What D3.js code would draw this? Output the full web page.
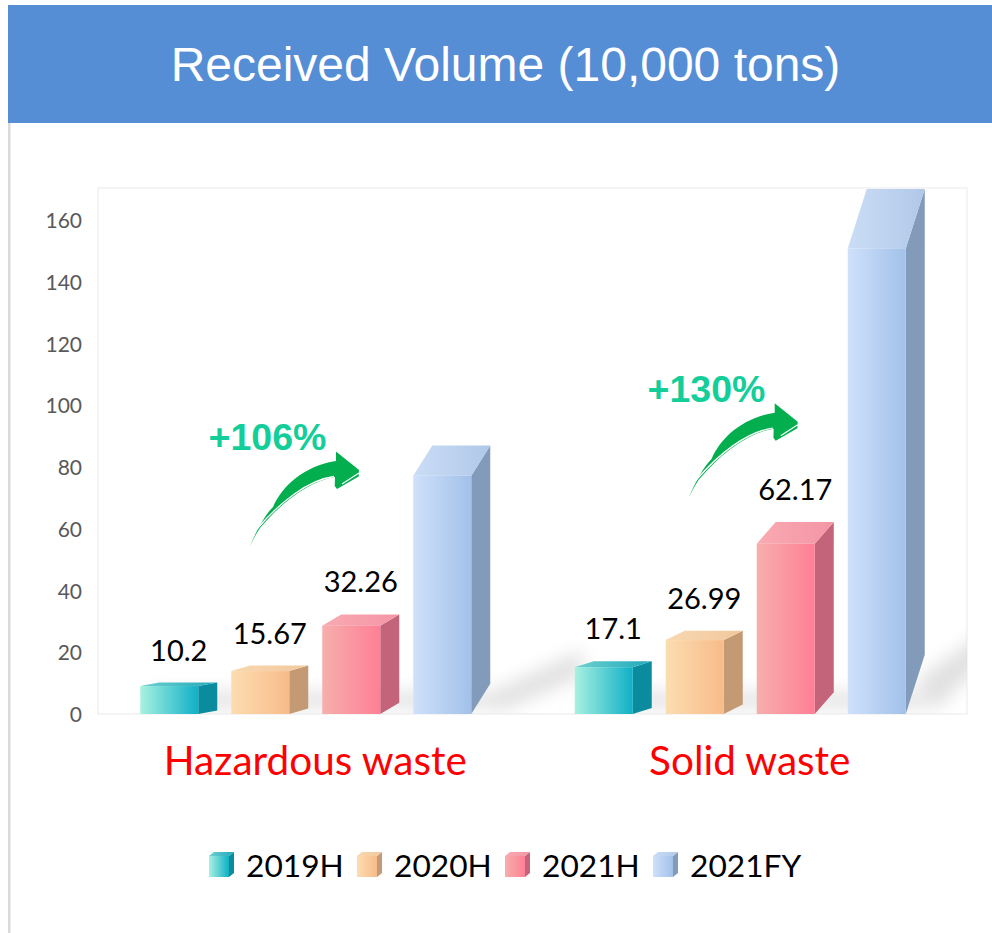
<!DOCTYPE html>
<html><head><meta charset="utf-8">
<script src="https://cdn.jsdelivr.net/npm/d3@7"></script>
<style>html,body{margin:0;padding:0;background:#fff;overflow:hidden}svg{display:block}</style>
</head><body><div id="chart"></div>
<script>
const titleText = "Received Volume (10,000 tons)";
const categories = ["Hazardous waste", "Solid waste"];
const seriesNames = ["2019H", "2020H", "2021H", "2021FY"];
const values2019H = [10.2, 17.1];
const values2020H = [15.67, 26.99];
const values2021H = [32.26, 62.17];
const values2021FY = [87, 170];
const labels2019H = ["10.2", "17.1"];
const labels2020H = ["15.67", "26.99"];
const labels2021H = ["32.26", "62.17"];
const labels2021FY = [null, null];
const yTicks = [0, 20, 40, 60, 80, 100, 120, 140, 160];
const growthLabels = ["+106%", "+130%"];

const colFront = [["#A8F1E1", "#0FB0C6"], ["#FCDDB0", "#F8BB8A"], ["#F6AFAC", "#FF7F95"], ["#CFE1FB", "#A2C1E9"]];
const colTop = [["#6FD0CF", "#1FA9BA"], ["#F8D8B0", "#F2C79D"], ["#F9AAB2", "#F495A6"], ["#CBDDF6", "#B0C8E8"]];
const colSide = ["#0A8C9E", "#C49A74", "#C3647A", "#829BBB"];

const W = 992, H = 933;
const plot = {l: 98, r: 967, t: 188, b: 714};
const font = "Lato, Carlito, sans-serif";
const svg = d3.select("#chart").append("svg").attr("width", W).attr("height", H);
const defs = svg.append("defs");

const allValues = [values2019H, values2020H, values2021H, values2021FY];
const allLabels = [labels2019H, labels2020H, labels2021H, labels2021FY];

const x0 = d3.scaleBand().domain(categories).range([plot.l, plot.r]);
const x1 = d3.scaleBand().domain(seriesNames).range([-175, 175]).paddingInner(14 / 91);
const y = d3.scaleLinear().domain([0, 170.36]).range([plot.b, plot.t]);

function grad(id, stops) {
  const g = defs.append("linearGradient").attr("id", id);
  stops.forEach((c, i) => g.append("stop").attr("offset", i / (stops.length - 1)).attr("stop-color", c));
}
seriesNames.forEach((s, i) => {
  grad("front" + i, colFront[i]);
  grad("top" + i, colTop[i]);
});
defs.append("clipPath").attr("id", "plotClip").append("rect")
  .attr("x", plot.l).attr("y", plot.t).attr("width", plot.r - plot.l).attr("height", plot.b - plot.t);
defs.append("filter").attr("id", "blur").attr("x", "-40%").attr("y", "-40%").attr("width", "180%").attr("height", "180%")
  .append("feGaussianBlur").attr("stdDeviation", 9);

// header + page edge
svg.append("rect").attr("x", 8).attr("y", 123).attr("width", 2.5).attr("height", H - 123).attr("fill", "#DADADA");
svg.append("rect").attr("x", 8).attr("y", 5).attr("width", W - 8).attr("height", 118).attr("fill", "#558ED5");
svg.append("text").attr("x", 505.5).attr("y", 81).attr("text-anchor", "middle")
  .attr("font-family", "'Liberation Sans', Arial, sans-serif").attr("font-size", 48).attr("fill", "#fff").text(titleText);

// plot frame
svg.append("rect").attr("x", plot.l).attr("y", plot.t).attr("width", plot.r - plot.l).attr("height", plot.b - plot.t)
  .attr("fill", "#fff").attr("stroke", "#F1F1F1").attr("stroke-width", 1.5);

// axis
const yAxis = d3.axisLeft(y).tickValues(yTicks).tickSize(0).tickPadding(16);
const axisG = svg.append("g").attr("transform", `translate(${plot.l},1)`).call(yAxis);
axisG.select(".domain").remove();
axisG.selectAll("text").attr("font-family", font).attr("font-size", 21).attr("fill", "#595959");

// floor shadows
const chart = svg.append("g").attr("clip-path", "url(#plotClip)");
const shadowG = chart.append("g").attr("filter", "url(#blur)");
const depthX = 19, frontW = x1.bandwidth() - depthX, ratio = 0.113;
categories.forEach((c, ci) => {
  const cx = x0(c) + x0.bandwidth() / 2;
  const fyRight = cx + x1("2021FY") + x1.bandwidth();
  const rise = (plot.b - y(values2021FY[ci])) * ratio;
  const spread = ci === 0 ? 92 : 70;
  const topY = plot.b - rise * (ci === 0 ? 2.1 : 1.5);
  shadowG.append("path").attr("fill", "#E0E0E0").attr("d", d3.line()([
    [fyRight - 6, plot.b - rise * 0.6],
    [fyRight + spread, topY],
    [fyRight + spread, topY + 26],
    [fyRight + 8, plot.b - 2]
  ]) + "Z");
  shadowG.append("rect").attr("x", cx + x1("2019H") + 10).attr("y", plot.b - 22)
    .attr("width", fyRight - cx - x1("2019H") - 10).attr("height", 16).attr("fill", "#E2E2E2");
});

// 3D bars
seriesNames.forEach((s, si) => {
  const rows = categories.map((c, ci) => ({c, v: allValues[si][ci], label: allLabels[si][ci]}));
  const g = chart.append("g").selectAll("g").data(rows).join("g")
    .attr("transform", d => `translate(${x0(d.c) + x0.bandwidth() / 2 + x1(s)},0)`);
  const dp = d => (plot.b - y(d.v)) * ratio;
  g.append("path").attr("fill", colSide[si]).attr("d", d => d3.line()([
    [frontW, plot.b], [frontW + depthX, plot.b - dp(d)], [frontW + depthX, y(d.v)], [frontW, y(d.v) + dp(d)]
  ]) + "Z");
  g.append("path").attr("fill", `url(#top${si})`).attr("d", d => d3.line()([
    [0, y(d.v) + dp(d)], [depthX, y(d.v)], [frontW + depthX, y(d.v)], [frontW, y(d.v) + dp(d)]
  ]) + "Z");
  g.append("rect").attr("fill", `url(#front${si})`).attr("x", 0).attr("width", frontW)
    .attr("y", d => y(d.v) + dp(d)).attr("height", d => plot.b - y(d.v) - dp(d));
});

// value labels
seriesNames.forEach((s, si) => {
  categories.forEach((c, ci) => {
    if (allLabels[si][ci] === null) return;
    svg.append("text")
      .attr("x", x0(c) + x0.bandwidth() / 2 + x1(s) + x1.bandwidth() / 2)
      .attr("y", y(allValues[si][ci]) - 22)
      .attr("text-anchor", "middle").attr("font-family", font).attr("font-size", 29).attr("fill", "#000")
      .text(allLabels[si][ci]);
  });
});

// category labels
categories.forEach(c => {
  svg.append("text").attr("x", x0(c) + x0.bandwidth() / 2).attr("y", 775).attr("text-anchor", "middle")
    .attr("font-family", font).attr("font-size", 40.5).attr("fill", "#FF0000").text(c);
});

// growth arrows (shape in local units, origin at the tail tip)
const arrowBody = "M0,0 C6,-14 14,-30 23,-39 C32,-60 54,-80 86,-85 L86,-94.5 L109,-76 L108.7,-69.5 L87,-57 L84.7,-60 L85,-69 C60,-65 34,-46 10,-18 C6,-12 3,-6 0,0 Z";
const arrowSlit = "M7,-17 C30,-44 58,-66 84,-69.5";
const arrowSlit2 = "M92,-62 L109,-73";
const arrowAnchors = [[250, 546], [688.7, 497.7]];
const growthPos = [[267.5, 449.5], [706.5, 401.5]];
arrowAnchors.forEach((a, i) => {
  const g = svg.append("g").attr("transform", `translate(${a[0]},${a[1]})`);
  g.append("path").attr("d", arrowBody).attr("fill", "#03AE4E");
  g.append("path").attr("d", arrowSlit).attr("fill", "none").attr("stroke", "#fff").attr("stroke-width", 1.3);
  g.append("path").attr("d", arrowSlit2).attr("fill", "none").attr("stroke", "#fff").attr("stroke-width", 1.2);
  svg.append("text").attr("x", growthPos[i][0]).attr("y", growthPos[i][1]).attr("text-anchor", "middle")
    .attr("font-family", "'Liberation Sans', Arial, sans-serif").attr("font-weight", "bold")
    .attr("font-size", 37.5).attr("fill", "#14CE9A").text(growthLabels[i]);
});

// legend
const legendX = d3.scalePoint().domain(seriesNames).range([209, 653]);
seriesNames.forEach((s, si) => {
  const lx = legendX(s), top = 852, bot = 877, fw = 20, dx = 5, dy = 4;
  const g = svg.append("g").attr("transform", `translate(${lx},0)`);
  g.append("path").attr("fill", colSide[si]).attr("d", d3.line()([[fw, bot], [fw + dx, bot - dy], [fw + dx, top], [fw, top + dy]]) + "Z");
  g.append("path").attr("fill", `url(#top${si})`).attr("d", d3.line()([[0, top + dy], [dx, top], [fw + dx, top], [fw, top + dy]]) + "Z");
  g.append("rect").attr("x", 0).attr("y", top + dy).attr("width", fw).attr("height", bot - top - dy).attr("fill", `url(#front${si})`);
  svg.append("text").attr("x", lx + 37).attr("y", 877).attr("font-family", font).attr("font-size", 31.7).attr("fill", "#000").text(s);
});
</script></body></html>
